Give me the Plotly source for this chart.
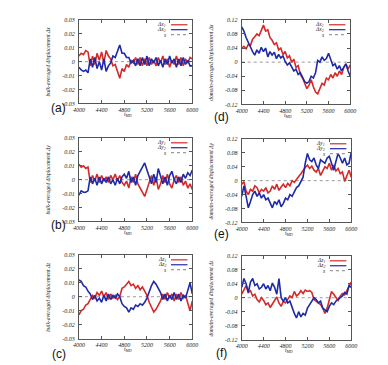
import plotly.graph_objects as go

W, H = 388, 365

# ─────────────────────────────────────────────────────────────────────────────
# Data (read off the reference, t_MD sampled every 40 steps)
# ─────────────────────────────────────────────────────────────────────────────
t_md = list(range(4000, 6001, 40))
s_t = [4000, 6000]
s_val = [0, 0]

x_ticks = [4000, 4400, 4800, 5200, 5600, 6000]
bulk_ticks = [-0.03, -0.02, -0.01, 0, 0.01, 0.02, 0.03]
bulk_ticktext = ["-0.03", "-0.02", "-0.01", "0", "0.01", "0.02", "0.03"]
dom_ticks = [-0.12, -0.08, -0.04, 0, 0.04, 0.08, 0.12]
dom_ticktext = ["-0.12", "-0.08", "-0.04", "0", "0.04", "0.08", "0.12"]

a_dx1 = [0.004, 0.006, 0.005, 0.008, 0.007, -0.003, 0.004, -0.002, 0.006, 0.001,
         0.007, -0.001, 0.008, 0.004, 0.002, -0.003, -0.002, -0.007, -0.012, -0.005,
         -0.007, -0.002, -0.004, 0.001, -0.001, 0.003, -0.002, 0.003, -0.003, 0.002,
         -0.003, 0.003, -0.002, 0.001, -0.003, 0.003, -0.001, 0.004, -0.002, 0.002,
         -0.004, 0.001, -0.002, 0.004, -0.002, 0.003, -0.003, 0.002, -0.001, 0.003, 0.002]
a_dx2 = [-0.004, -0.006, -0.007, -0.006, -0.008, 0.002, -0.004, 0.003, -0.005, 0.000,
         -0.006, 0.002, -0.007, -0.003, -0.001, 0.004, 0.003, 0.007, 0.012, 0.006,
         0.006, 0.003, 0.003, -0.001, 0.001, -0.003, 0.002, -0.003, 0.003, -0.002,
         0.004, -0.003, 0.002, -0.001, 0.003, -0.003, 0.001, -0.004, 0.002, -0.002,
         0.004, -0.001, 0.002, -0.004, 0.002, -0.003, 0.003, -0.002, 0.001, -0.003, -0.003]

b_dy1 = [0.011, 0.009, 0.010, 0.008, 0.009, -0.002, 0.003, -0.001, 0.004, -0.002,
         0.003, -0.001, 0.002, -0.002, 0.003, 0.000, 0.004, -0.001, 0.003, -0.002,
         -0.004, -0.001, -0.006, 0.002, -0.002, 0.004, -0.003, -0.006, -0.009, -0.012,
         -0.007, -0.002, 0.003, -0.004, 0.002, -0.007, -0.003, 0.003, -0.002, 0.004,
         -0.003, -0.006, 0.000, 0.003, -0.002, 0.002, -0.004, -0.001, -0.006, -0.003, -0.007]
b_dy2 = [-0.011, -0.008, -0.009, -0.009, -0.008, 0.002, -0.003, 0.001, -0.004, 0.002,
         -0.003, 0.001, -0.002, 0.002, -0.003, 0.000, -0.004, 0.001, -0.003, 0.002,
         0.004, 0.001, 0.006, -0.002, 0.002, -0.004, 0.003, 0.006, 0.009, 0.012,
         0.007, 0.002, -0.003, 0.004, -0.002, 0.008, 0.003, -0.003, 0.002, -0.004,
         0.003, 0.006, 0.000, -0.003, 0.002, -0.002, 0.004, 0.001, 0.005, 0.003, 0.007]

c_dz1 = [-0.013, -0.010, -0.009, -0.006, -0.005, -0.002, 0.001, -0.001, 0.003, 0.001,
         0.004, 0.000, 0.003, -0.002, 0.002, -0.001, 0.001, -0.002, 0.000, 0.006,
         0.007, 0.009, 0.011, 0.008, 0.009, 0.006, 0.008, 0.005, 0.007, 0.004,
         0.001, -0.004, -0.008, -0.011, -0.009, -0.006, -0.003, 0.002, -0.002, 0.003,
         -0.001, 0.002, -0.003, 0.002, -0.002, 0.003, -0.001, 0.001, -0.004, -0.010, -0.003]
c_dz2 = [0.012, 0.011, 0.008, 0.007, 0.004, 0.002, -0.002, 0.001, -0.003, -0.001,
         -0.004, 0.001, -0.003, 0.002, -0.002, 0.001, -0.001, 0.002, 0.000, -0.005,
         -0.007, -0.008, -0.011, -0.008, -0.009, -0.006, -0.007, -0.005, -0.006, -0.004,
         -0.001, 0.004, 0.008, 0.011, 0.009, 0.006, 0.003, -0.002, 0.002, -0.003,
         0.001, -0.002, 0.003, -0.002, 0.002, -0.003, 0.001, -0.001, 0.004, 0.010, 0.002]

d_dx1 = [0.040, 0.045, 0.038, 0.050, 0.047, 0.065, 0.072, 0.080, 0.075, 0.090,
         0.105, 0.088, 0.092, 0.070, 0.062, 0.050, 0.055, 0.035, 0.040, 0.022,
         0.030, 0.012, 0.018, 0.000, 0.008, -0.015, -0.010, -0.035, -0.045, -0.060,
         -0.075, -0.065, -0.050, -0.070, -0.085, -0.090, -0.075, -0.060, -0.065, -0.045,
         -0.050, -0.035, -0.045, -0.030, -0.040, -0.025, -0.035, -0.015, -0.005, -0.020, -0.008]
d_dx2 = [0.100, 0.088, 0.070, 0.055, 0.045, 0.030, 0.020, 0.035, 0.025, 0.042,
         0.030, 0.040, 0.015, 0.030, 0.020, 0.028, 0.010, 0.022, 0.012, 0.018,
         0.002, -0.008, -0.002, -0.015, -0.025, -0.020, -0.035, -0.030, -0.045, -0.055,
         -0.060, -0.055, -0.040, -0.045, -0.030, 0.005, 0.000, 0.015, 0.005, 0.010,
         0.025, 0.005, -0.010, -0.005, -0.020, -0.010, -0.025, -0.015, -0.005, -0.025, -0.040]

e_dy1 = [-0.010, -0.003, -0.030, -0.040, -0.025, -0.030, -0.015, -0.020, -0.035, -0.025,
         -0.030, -0.020, -0.035, -0.030, -0.015, -0.025, -0.010, -0.028, -0.018, -0.010,
         -0.020, -0.008, -0.015, 0.000, -0.005, 0.002, 0.012, 0.020, 0.030, 0.038,
         0.045, 0.035, 0.042, 0.030, 0.025, 0.035, 0.015, 0.030, 0.040, 0.035,
         0.050, 0.030, 0.045, 0.028, 0.035, 0.020, 0.025, -0.002, 0.015, 0.030, 0.010]
e_dy2 = [-0.045, -0.015, -0.045, -0.078, -0.060, -0.040, -0.030, -0.045, -0.035, -0.050,
         -0.040, -0.055, -0.050, -0.065, -0.078, -0.060, -0.068, -0.055, -0.075, -0.065,
         -0.050, -0.055, -0.040, -0.045, -0.030, -0.020, -0.015, 0.000, 0.010, 0.050,
         0.078, 0.060, 0.055, 0.065, 0.045, 0.035, 0.060, 0.055, 0.050, 0.065,
         0.070, 0.050, 0.030, 0.055, 0.078, 0.065, 0.050, 0.065, 0.045, 0.050, 0.082]

f_dz1 = [0.010, 0.025, 0.035, 0.015, 0.020, 0.005, 0.010, -0.005, -0.012, 0.000,
         -0.008, -0.020, -0.015, -0.028, -0.018, -0.005, 0.002, -0.015, -0.025, -0.010,
         -0.015, -0.005, 0.005, 0.000, 0.018, 0.005, 0.010, 0.020, 0.012, 0.022,
         0.018, 0.020, 0.015, -0.005, -0.010, -0.015, -0.020, -0.030, -0.045, -0.030,
         -0.005, 0.018, 0.010, 0.000, -0.008, 0.005, 0.012, 0.008, 0.020, 0.030, 0.045]
f_dz2 = [0.030, 0.055, 0.040, 0.015, 0.045, 0.055, 0.035, 0.040, 0.025, 0.030,
         0.040, 0.025, 0.035, 0.020, 0.042, 0.030, 0.010, 0.055, 0.000, -0.010,
         0.000, -0.015, -0.010, -0.030, -0.045, -0.058, -0.040, -0.055, -0.045, -0.050,
         -0.030, -0.020, -0.010, 0.000, -0.005, -0.015, -0.010, -0.030, -0.035, -0.040,
         -0.025, -0.015, -0.020, -0.010, -0.005, 0.000, 0.005, 0.015, 0.010, 0.035, 0.030]

# ─────────────────────────────────────────────────────────────────────────────
# Panel layout (pixel boxes: x0, x1, y0, y1 measured from the top-left)
# ─────────────────────────────────────────────────────────────────────────────
RED = "#d42a2a"
BLUE = "#1f2aa6"
GREY = "#9a9a9a"
SERIF = "Liberation Serif, DejaVu Serif, serif"
SANS = "Liberation Sans, DejaVu Sans, sans-serif"

panels = [
    # tag, comp, kind, s1, s2, box, tag_y
    ("(a)", "x", "bulk", a_dx1, a_dx2, (67, 184, 9, 94), 99),
    ("(b)", "y", "bulk", b_dy1, b_dy2, (67, 184, 129, 214), 218),
    ("(c)", "z", "bulk", c_dz1, c_dz2, (67, 184, 248, 333), 349),
    ("(d)", "x", "domain", d_dx1, d_dx2, (235, 347, 9, 95), 108),
    ("(e)", "y", "domain", e_dy1, e_dy2, (235, 348, 130, 215), 227),
    ("(f)", "z", "domain", f_dz1, f_dz2, (235, 348, 249, 334), 348),
]

fig = go.Figure()
annotations = []
shapes = []

tick_font = dict(family=SERIF, size=6, color="#222", style="italic")
txt_font = dict(family=SERIF, size=5.5, color="#222", style="italic")

for i, (tag, comp, kind, s1, s2, (x0, x1, y0, y1), tag_y) in enumerate(panels):
    n = i + 1
    xa = "x" if n == 1 else f"x{n}"
    ya = "y" if n == 1 else f"y{n}"
    xkey = "xaxis" if n == 1 else f"xaxis{n}"
    ykey = "yaxis" if n == 1 else f"yaxis{n}"

    fig.add_trace(go.Scatter(x=s_t, y=s_val, mode="lines", xaxis=xa, yaxis=ya,
        line=dict(color=GREY, width=1, dash="dot"), showlegend=False))
    fig.add_trace(go.Scatter(x=t_md, y=s1, mode="lines", xaxis=xa, yaxis=ya,
        line=dict(color=RED, width=1.6), showlegend=False))
    fig.add_trace(go.Scatter(x=t_md, y=s2, mode="lines", xaxis=xa, yaxis=ya,
        line=dict(color=BLUE, width=1.6), showlegend=False))

    if kind == "bulk":
        yr, yt, ytt = [-0.03, 0.03], bulk_ticks, bulk_ticktext
        ytitle = f"bulk-averaged displacement Δ{comp}"
    else:
        yr, yt, ytt = [-0.12, 0.12], dom_ticks, dom_ticktext
        ytitle = f"domain-averaged displacement Δ{comp}"

    common = dict(showline=True, linecolor="#555", linewidth=1, mirror="allticks",
                  ticks="inside", ticklen=3, tickcolor="#555", showgrid=False,
                  zeroline=False, tickfont=tick_font)
    fig.update_layout({
        xkey: dict(domain=[x0 / W, x1 / W], anchor=ya, range=[4000, 6000],
                   tickvals=x_ticks, ticklabelstandoff=0, **common),
        ykey: dict(domain=[1 - y1 / H, 1 - y0 / H], anchor=xa, range=yr,
                   tickvals=yt, ticktext=ytt, ticklabelstandoff=2, **common),
    })

    # axis titles
    annotations.append(dict(text="t<sub>MD</sub>", xref="paper", yref="paper",
        x=(x0 + x1) / 2 / W - 0.02, y=1 - (y1 + 11) / H, showarrow=False,
        font=txt_font, xanchor="center", yanchor="middle"))
    annotations.append(dict(text=ytitle, xref="paper", yref="paper",
        x=(x0 - 32) / W, y=1 - (y0 + y1) / 2 / H, showarrow=False, textangle=-90,
        font=txt_font, xanchor="center", yanchor="middle"))
    # panel tag
    annotations.append(dict(text=tag, xref="paper", yref="paper",
        x=(x0 - 21) / W, y=1 - tag_y / H, showarrow=False,
        font=dict(family=SANS, size=12, color="#111"),
        xanchor="center", yanchor="middle"))

    # gnuplot-style key: label, then sample line, top right
    wpx = x1 - x0
    hpx = y1 - y0
    keys = [(f"Δ{comp}<sub>1</sub>", RED, "solid"),
            (f"Δ{comp}<sub>2</sub>", BLUE, "solid"),
            ("s", GREY, "dot")]
    for k, (lbl, col, dash) in enumerate(keys):
        ky = 1 - (5 + 5 * k) / hpx
        annotations.append(dict(text=lbl, xref=f"{xa} domain", yref=f"{ya} domain",
            x=1 - 25 / wpx, y=ky, showarrow=False, font=txt_font,
            xanchor="right", yanchor="middle"))
        shapes.append(dict(type="line", xref=f"{xa} domain", yref=f"{ya} domain",
            x0=1 - 22 / wpx, x1=1 - 5 / wpx, y0=ky, y1=ky,
            line=dict(color=col, width=1.2, dash=dash)))

fig.update_layout(
    width=W, height=H,
    margin=dict(l=0, r=0, t=0, b=0),
    paper_bgcolor="white", plot_bgcolor="white",
    annotations=annotations, shapes=shapes,
    showlegend=False,
)

fig.write_html("out.html")
